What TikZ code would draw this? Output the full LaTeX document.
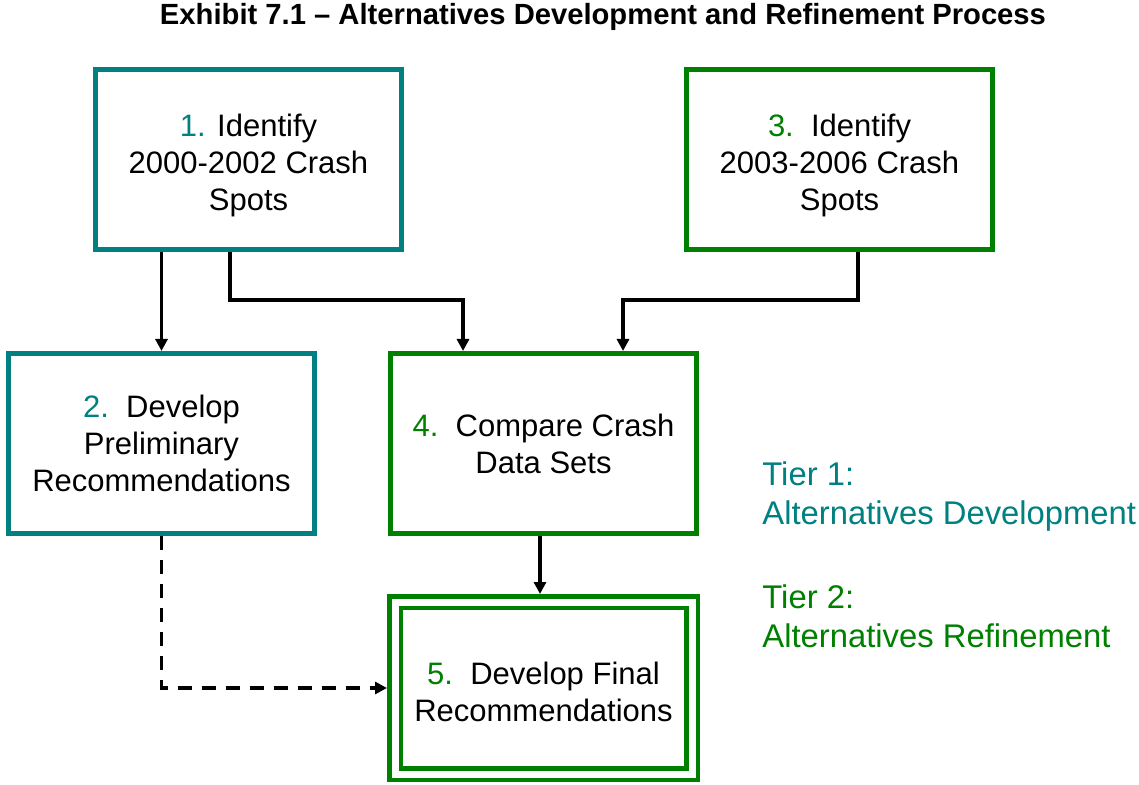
\documentclass[tikz,border=0pt]{standalone}
\usepackage{fontspec}
\setmainfont{Liberation Sans}
\usetikzlibrary{positioning,arrows.meta}

\definecolor{tierone}{RGB}{0,128,128}
\definecolor{tiertwo}{RGB}{0,128,0}

\newcommand{\stepno}[2]{{\color{#1}#2.}}
\newcommand{\dropline}[1]{\rule{0pt}{#1}}

\tikzset{
  box/.style={draw, rectangle, line width=2.5pt, minimum width=153pt,
    minimum height=90pt, align=center, inner sep=0pt, text depth=0pt,
    font=\fontsize{15.5}{18.5}\selectfont},
  onebox/.style={box, draw=tierone},
  twobox/.style={box, draw=tiertwo},
  flow/.style={line width=1.75pt, -{Triangle[length=6pt,width=6pt]}},
  tier/.style={anchor=west, align=left, inner sep=0pt,
    font=\fontsize{16.4}{19.5}\selectfont},
}

\begin{document}
\begin{tikzpicture}[x=0.5pt,y=-0.5pt]
  \useasboundingbox (0,0) rectangle (1139,785);

  \node[font=\bfseries\fontsize{14.6}{17}\selectfont] (title) at (603,17)
    {Exhibit 7.1 -- Alternatives Development and Refinement Process};

  % step boxes
  \node[onebox] (spots1) at (248.5,159.5)
    {\dropline{14.3pt}\stepno{tierone}{1} Identify\\2000-2002 Crash\\Spots};
  \node[twobox, right=140pt of spots1] (spots3)
    {\dropline{14.3pt}\stepno{tiertwo}{3}\ \ Identify\\2003-2006 Crash\\Spots};
  \node[onebox] (prelim) at (161.5,443.5)
    {\stepno{tierone}{2}\ \ Develop\\Preliminary\\Recommendations};
  \node[twobox] (compare) at (543.5,443.5)
    {\stepno{tiertwo}{4}\ \ Compare Crash\\Data Sets};
  \node[twobox, line width=2.25pt, double=white, double distance=3.5pt,
    minimum width=148.5pt, minimum height=86pt, outer sep=4pt,
    below=29pt of compare] (final)
    {\dropline{15.3pt}\stepno{tiertwo}{5}\ \ Develop Final\\Recommendations};

  % tiers
  \node[tier, text=tierone] (t1) at (762,497)
    {Tier 1:\\Alternatives Development};
  \node[tier, text=tiertwo] (t2) at (762,616)
    {Tier 2:\\Alternatives Refinement};

  % connectors
  \draw[flow] (prelim.north |- spots1.south) -- (prelim.north);
  \draw[flow] ([xshift=-9.25pt]spots1.south) -- ++(0,48)
    -| ([xshift=-40.25pt]compare.north);
  \draw[flow] ([xshift=9.25pt]spots3.south) -- ++(0,48)
    -| ([xshift=39.75pt]compare.north);
  \draw[flow] ([xshift=-1.75pt]compare.south) -- ([xshift=-1.75pt]final.north);
  \draw[flow, dashed, dash pattern=on 7pt off 5pt]
    (prelim.south) |- (final.west);
\end{tikzpicture}
\end{document}
